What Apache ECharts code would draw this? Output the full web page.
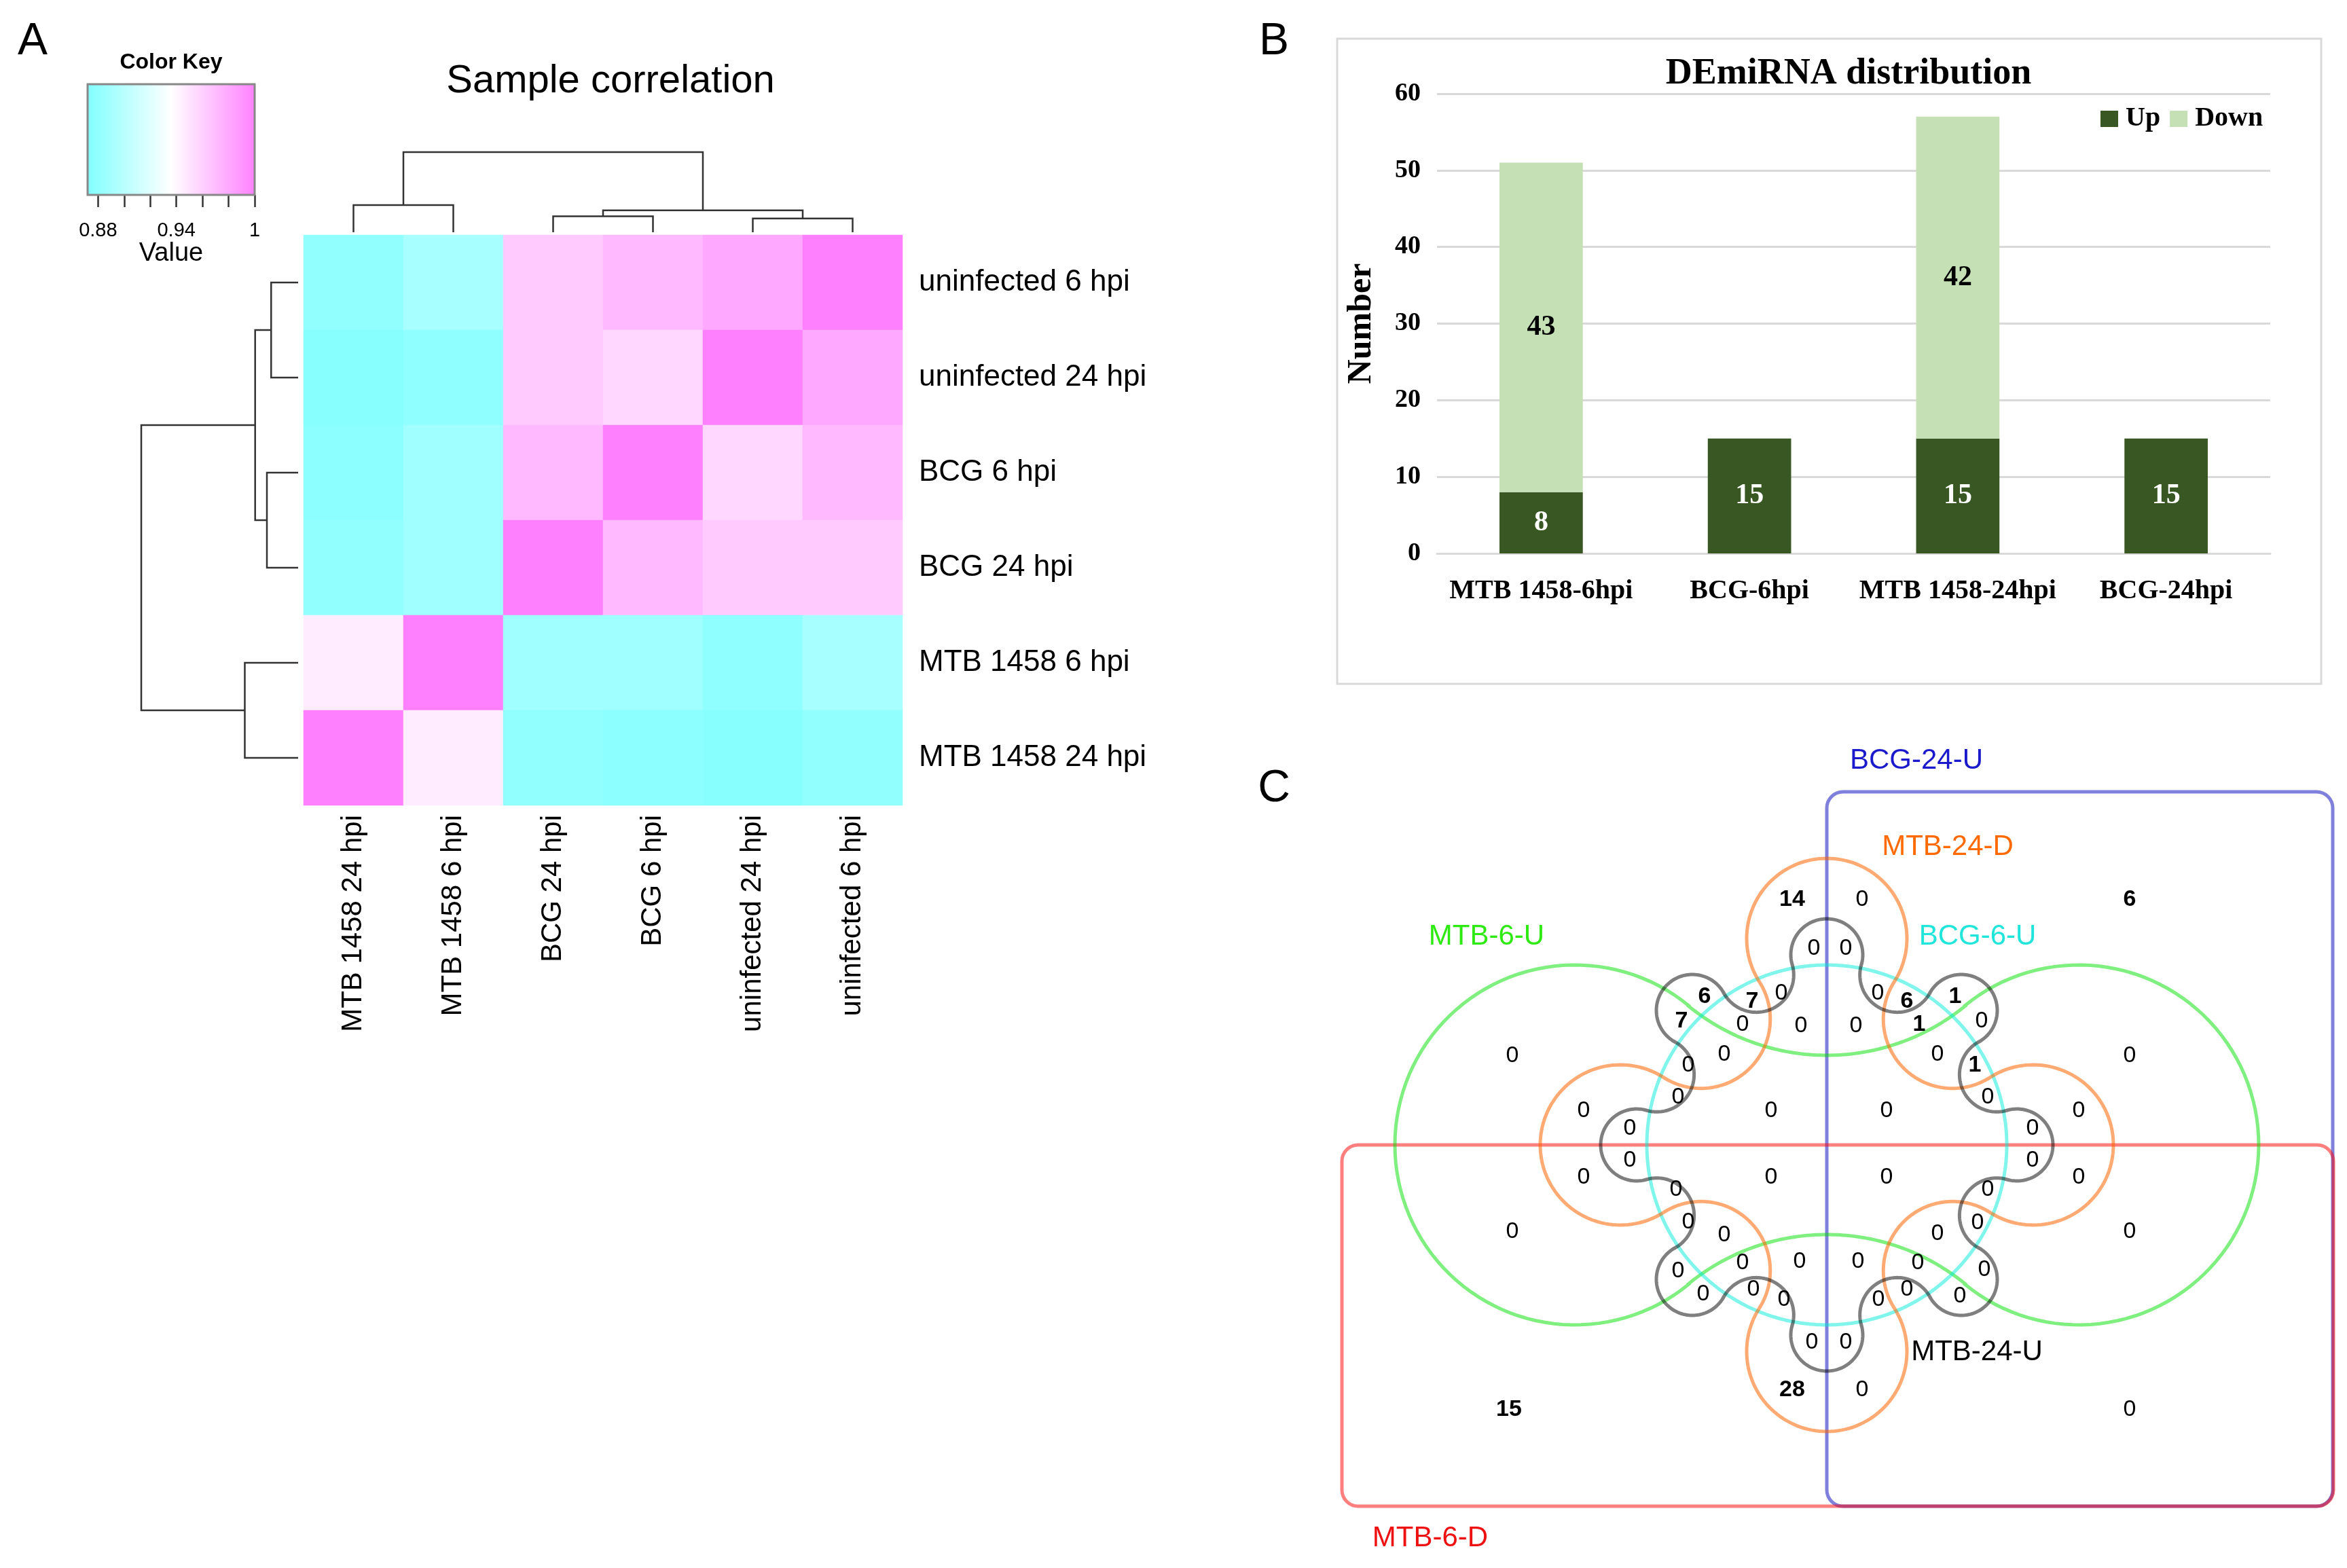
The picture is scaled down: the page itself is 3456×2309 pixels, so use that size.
<!DOCTYPE html>
<html><head><meta charset="utf-8">
<script src="https://cdn.jsdelivr.net/npm/echarts@6/dist/echarts.min.js"></script>
<style>html,body{margin:0;padding:0;background:#fff}#c{width:3456px;height:2309px}</style>
</head><body><div id="c"></div>
<script>
// ================= Panel A: sample correlation =================
const samples = ['uninfected 6 hpi','uninfected 24 hpi','BCG 6 hpi','BCG 24 hpi','MTB 1458 6 hpi','MTB 1458 24 hpi'];
const corrUninf6  = [1.000, 0.980, 0.971, 0.962, 0.892, 0.881];
const corrUninf24 = [0.980, 1.000, 0.956, 0.962, 0.880, 0.876];
const corrBCG6    = [0.971, 0.956, 1.000, 0.971, 0.888, 0.878];
const corrBCG24   = [0.962, 0.962, 0.971, 1.000, 0.888, 0.881];
const corrMTB6    = [0.892, 0.880, 0.888, 0.888, 1.000, 0.945];
const corrMTB24   = [0.881, 0.876, 0.878, 0.881, 0.945, 1.000];
const corrRows = [corrUninf6, corrUninf24, corrBCG6, corrBCG24, corrMTB6, corrMTB24];
const rowOrder = [0, 1, 2, 3, 4, 5];      // top -> bottom
const colOrder = [5, 4, 3, 2, 1, 0];      // left -> right
const colorKeyMin = 0.872, colorKeyMax = 1.0;
const colorKeyTicks = [0.88, 0.90, 0.92, 0.94, 0.96, 0.98, 1.00];
const colorKeyLabels = [0.88, 0.94, 1.00];
// hclust-style merges: negative = leaf (1-based sample index), positive = earlier merge
const dendroMerges = [[-1, -2, 0.172], [-3, -4, 0.199], [1, 2, 0.274], [-5, -6, 0.340], [3, 4, 1.0]];

// ================= Panel B: DEmiRNA distribution =================
const barCategories = ['MTB 1458-6hpi', 'BCG-6hpi', 'MTB 1458-24hpi', 'BCG-24hpi'];
const upCounts = [8, 15, 15, 15];
const downCounts = [43, 0, 42, 0];

// ================= Panel C: Venn diagram =================
const vennSetNames = ['BCG-24-U', 'MTB-24-D', 'BCG-6-U', 'MTB-6-U', 'MTB-6-D', 'MTB-24-U'];
const vennCounts = [
  14,0,6,7,0,7,0,0,0,0,0,0,0,0,0,0,0,0,0,0,0,0,
  0,6,0,0,6,1,0,1,0,0,1,0,0,0,0,0,0,0,0,0,0,0,0,
  0,0,0,0,0,0,0,28,15,
  0,0,0,0,0,0,0,0,0
];

// ----- layout (positions/sizes; not data) -----
const vennLabelPos = [
  [-51,361],[-19,289],[-180,218],[-110,211],[-67,223],[-214,182],[-124,177],[-38,175],[-463,131],[-151,133],[-204,117],
  [-219,70],[-358,50],[-82,50],[-290,24],[-290,-23],[-358,-48],[-82,-48],[-222,-66],[-463,-128],[-204,-114],[-151,-133],
  [52,361],[446,361],[28,289],[75,223],[118,211],[189,218],[43,175],[136,177],[228,182],[163,133],[218,117],[446,131],
  [237,70],[88,50],[371,50],[303,24],[303,-23],[88,-48],[371,-48],[237,-66],[163,-131],[222,-115],[446,-128],
  [-219,-186],[-124,-174],[-40,-172],[-182,-220],[-108,-213],[-63,-228],[-22,-291],[-51,-361],[-468,-390],
  [46,-172],[134,-174],[232,-184],[118,-213],[76,-228],[196,-223],[28,-291],[52,-361],[446,-390]
];
const vennSetLabelPos = [[132,566],[178,439],[222,307],[-501,307],[-584,-579],[221,-305]];
const vennSetLabelColor = ['#1A1ACC','#FF6A00','#1FE5DB','#2EEA12','#EE1111','#000000'];
const vennShapes = [
  {kind:'rect', x1:0, y1:-532, x2:745, y2:520, stroke:'rgba(0,0,185,0.5)'},
  {kind:'rect', x1:-714, y1:-532, x2:746, y2:0, stroke:'rgba(255,0,0,0.5)'},
  {kind:'chain', n:2, R1:371, r1:265, R2:454, r2:322, stroke:'rgba(0,225,0,0.5)'},
  {kind:'circle', r:265, stroke:'rgba(0,235,215,0.5)'},
  {kind:'chain', n:4, R1:304, r1:118, R2:262, r2:102, stroke:'rgba(255,100,0,0.55)'},
  {kind:'chain', n:8, R1:280, r1:53, R2:271, r2:55, stroke:'rgba(0,0,0,0.5)'}
];

const SANS = '"Liberation Sans", Arial, Helvetica, sans-serif';
const SERIF = '"Liberation Serif", "Times New Roman", serif';

// ---------- helpers ----------
function dendroSegments(order) {
  const pos = {};
  order.forEach((s, i) => { pos[s] = i + 0.5; });
  const nodes = [], segs = [];
  const get = ref => ref < 0 ? {p: pos[-ref - 1], h: 0} : nodes[ref - 1];
  dendroMerges.forEach(([a, b, h]) => {
    const A = get(a), B = get(b);
    segs.push([A.p, A.h, B.p, B.h, h]);
    nodes.push({p: (A.p + B.p) / 2, h: h});
  });
  return segs;
}
function chainPoints(n, R1, r1, R2, r2) {
  const circles = [];
  for (let k = 0; k < n; k++) {
    const a1 = k * 2 * Math.PI / n, a2 = a1 + Math.PI / n;
    circles.push({x: R1 * Math.cos(a1), y: R1 * Math.sin(a1), r: r1, convex: true});
    circles.push({x: R2 * Math.cos(a2), y: R2 * Math.sin(a2), r: r2, convex: false});
  }
  const pts = [], m = circles.length;
  for (let i = 0; i < m; i++) {
    const c = circles[i], p = circles[(i - 1 + m) % m], q = circles[(i + 1) % m];
    let a0 = Math.atan2(p.y - c.y, p.x - c.x), a1 = Math.atan2(q.y - c.y, q.x - c.x);
    if (c.convex) { while (a1 <= a0) a1 += 2 * Math.PI; }
    else { while (a1 >= a0) a1 -= 2 * Math.PI; }
    const N = 90;
    for (let s = 0; s <= N; s++) {
      const a = a0 + (a1 - a0) * s / N;
      pts.push([c.x + c.r * Math.cos(a), c.y + c.r * Math.sin(a)]);
    }
  }
  return pts;
}
function circlePoints(r) {
  const pts = [];
  for (let s = 0; s < 360; s++) { const a = s * Math.PI / 180; pts.push([r * Math.cos(a), r * Math.sin(a)]); }
  return pts;
}

// ---------- build data ----------
const heatData = [];
rowOrder.forEach((ri, r) => colOrder.forEach((ci, c) => heatData.push([c, r, corrRows[ri][ci]])));
const topSegs = dendroSegments(colOrder);
const leftSegs = dendroSegments(rowOrder);

const chart = echarts.init(document.getElementById('c'), null, {renderer: 'canvas'});
const noAxis = {show: false};
const hiddenVal = (min, max, extra) => Object.assign({type: 'value', min: min, max: max, show: false, splitLine: {show: false}}, extra || {});

const option = {
  animation: false,
  backgroundColor: '#ffffff',
  textStyle: {fontFamily: SANS},
  grid: [
    {left: 447, top: 346, width: 882, height: 840, outerBoundsMode: 'none'},   // 0 heatmap
    {left: 447, top: 224, width: 882, height: 118, outerBoundsMode: 'none'},   // 1 top dendro
    {left: 208, top: 346, width: 231, height: 840, outerBoundsMode: 'none'},   // 2 left dendro
    {left: 129, top: 124, width: 246, height: 163, outerBoundsMode: 'none'},   // 3 color key
    {left: 2116, top: 138, width: 1227, height: 677, outerBoundsMode: 'none'}, // 4 bars
    {left: 1960, top: 1080, width: 1496, height: 1229, outerBoundsMode: 'none'} // 5 venn
  ],
  xAxis: [
    {type: 'category', gridIndex: 0, data: colOrder.map(i => samples[i]), position: 'bottom',
     axisLine: noAxis, axisTick: noAxis, splitLine: {show: false},
     axisLabel: {rotate: 90, interval: 0, fontSize: 42, color: '#000', margin: 14, fontFamily: SANS}},
    hiddenVal(0, 6, {gridIndex: 1}),
    hiddenVal(0, 1, {gridIndex: 2, inverse: true}),
    {type: 'value', gridIndex: 3, min: colorKeyMin, max: colorKeyMax, position: 'bottom',
     axisLine: {show: false}, splitLine: {show: false},
     axisTick: {show: true, customValues: colorKeyTicks, length: 18, lineStyle: {color: '#333', width: 2.5}},
     axisLabel: {show: true, customValues: colorKeyLabels, fontSize: 29, color: '#000', margin: 38,
                 formatter: v => String(+(+v).toFixed(2))},
     name: 'Value', nameLocation: 'middle', nameGap: 66,
     nameTextStyle: {fontSize: 38, color: '#000', fontFamily: SANS}},
    {type: 'category', gridIndex: 4, data: barCategories,
     axisLine: {show: true, lineStyle: {color: '#D9D9D9', width: 3}}, axisTick: noAxis,
     axisLabel: {fontSize: 40, fontWeight: 'bold', fontFamily: SERIF, color: '#000', margin: 36, interval: 0}},
    hiddenVal(-730, 766, {gridIndex: 5})
  ],
  yAxis: [
    {type: 'category', gridIndex: 0, data: rowOrder.map(i => samples[i]), inverse: true, position: 'right',
     axisLine: noAxis, axisTick: noAxis, splitLine: {show: false},
     axisLabel: {fontSize: 44, color: '#000', margin: 24, fontFamily: SANS, interval: 0}},
    hiddenVal(0, 1, {gridIndex: 1}),
    hiddenVal(0, 6, {gridIndex: 2, inverse: true}),
    hiddenVal(0, 1, {gridIndex: 3}),
    {type: 'value', gridIndex: 4, min: 0, max: 60, interval: 10,
     axisLine: {show: false}, axisTick: {show: false},
     splitLine: {show: true, lineStyle: {color: '#D9D9D9', width: 3}},
     axisLabel: {fontSize: 38, fontWeight: 'bold', fontFamily: SERIF, color: '#000', margin: 24},
     name: 'Number', nameLocation: 'middle', nameGap: 86, nameRotate: 90,
     nameTextStyle: {fontSize: 50, fontWeight: 'bold', fontFamily: SERIF, color: '#000'}},
    hiddenVal(-623, 606, {gridIndex: 5})
  ],
  visualMap: {
    show: false, type: 'continuous', min: colorKeyMin, max: colorKeyMax, seriesIndex: 0, dimension: 2,
    inRange: {color: ['#80FFFF', '#FFFFFF', '#FF80FF']}
  },
  legend: {
    left: 3088, top: 150, itemWidth: 26, itemHeight: 24, itemGap: 14, icon: 'rect',
    data: ['Up', 'Down'], selectedMode: false,
    textStyle: {fontSize: 40, fontWeight: 'bold', fontFamily: SERIF, color: '#000', padding: [0, 0, 0, 6]}
  },
  graphic: [
    {type: 'text', x: 48, y: 62, style: {text: 'A', fontSize: 66, fontFamily: SANS, fill: '#000', align: 'center', verticalAlign: 'middle'}},
    {type: 'text', x: 1876, y: 62, style: {text: 'B', fontSize: 66, fontFamily: SANS, fill: '#000', align: 'center', verticalAlign: 'middle'}},
    {type: 'text', x: 1876, y: 1162, style: {text: 'C', fontSize: 66, fontFamily: SANS, fill: '#000', align: 'center', verticalAlign: 'middle'}},
    {type: 'text', x: 252, y: 92, style: {text: 'Color Key', fontSize: 32, fontWeight: 'bold', fontFamily: SANS, fill: '#000', align: 'center', verticalAlign: 'middle'}},
    {type: 'text', x: 899, y: 120, style: {text: 'Sample correlation', fontSize: 58, fontFamily: SANS, fill: '#000', align: 'center', verticalAlign: 'middle'}},
    {type: 'text', x: 2722, y: 109, style: {text: 'DEmiRNA distribution', fontSize: 54, fontWeight: 'bold', fontFamily: SERIF, fill: '#000', align: 'center', verticalAlign: 'middle'}},
    {type: 'rect', shape: {x: 1969, y: 57, width: 1449, height: 950}, style: {fill: 'none', stroke: '#D9D9D9', lineWidth: 3}, z: -1}
  ],
  series: [
    {type: 'heatmap', xAxisIndex: 0, yAxisIndex: 0, data: heatData, silent: true,
     itemStyle: {borderWidth: 0}, emphasis: {disabled: true}},
    {type: 'custom', xAxisIndex: 1, yAxisIndex: 1, data: topSegs, silent: true,
     renderItem: (params, api) => {
       const p1 = api.value(0), h1 = api.value(1), p2 = api.value(2), h2 = api.value(3), H = api.value(4);
       return {type: 'polyline', shape: {points: [api.coord([p1, h1]), api.coord([p1, H]), api.coord([p2, H]), api.coord([p2, h2])]},
               style: {stroke: '#333', lineWidth: 2.5, fill: 'none'}};
     }},
    {type: 'custom', xAxisIndex: 2, yAxisIndex: 2, data: leftSegs, silent: true,
     renderItem: (params, api) => {
       const p1 = api.value(0), h1 = api.value(1), p2 = api.value(2), h2 = api.value(3), H = api.value(4);
       return {type: 'polyline', shape: {points: [api.coord([h1, p1]), api.coord([H, p1]), api.coord([H, p2]), api.coord([h2, p2])]},
               style: {stroke: '#333', lineWidth: 2.5, fill: 'none'}};
     }},
    {type: 'custom', xAxisIndex: 3, yAxisIndex: 3, data: [[colorKeyMin, colorKeyMax]], silent: true,
     renderItem: (params, api) => {
       const a = api.coord([api.value(0), 1]), b = api.coord([api.value(1), 0]);
       return {type: 'rect', shape: {x: a[0], y: a[1], width: b[0] - a[0], height: b[1] - a[1]},
               style: {stroke: '#888', lineWidth: 3,
                       fill: new echarts.graphic.LinearGradient(0, 0, 1, 0, [
                         {offset: 0, color: '#80FFFF'}, {offset: 0.5, color: '#FFFFFF'}, {offset: 1, color: '#FF80FF'}])}};
     }},
    {type: 'bar', name: 'Up', xAxisIndex: 4, yAxisIndex: 4, stack: 'total', data: upCounts, barWidth: '40%',
     itemStyle: {color: '#385723'}, silent: true,
     label: {show: true, position: 'inside', color: '#fff', fontSize: 42, fontWeight: 'bold', fontFamily: SERIF,
             formatter: p => p.value ? String(p.value) : ''}},
    {type: 'bar', name: 'Down', xAxisIndex: 4, yAxisIndex: 4, stack: 'total', data: downCounts, barWidth: '40%',
     itemStyle: {color: '#C5E0B4'}, silent: true,
     label: {show: true, position: 'inside', color: '#000', fontSize: 42, fontWeight: 'bold', fontFamily: SERIF,
             formatter: p => p.value ? String(p.value) : ''}},
    {type: 'custom', xAxisIndex: 5, yAxisIndex: 5, data: vennShapes.map((s, i) => [i, 0]), silent: true, clip: false,
     renderItem: (params, api) => {
       const s = vennShapes[params.dataIndex];
       if (s.kind === 'rect') {
         const a = api.coord([s.x1, s.y2]), b = api.coord([s.x2, s.y1]);
         return {type: 'rect', shape: {x: a[0], y: a[1], width: b[0] - a[0], height: b[1] - a[1], r: 24},
                 style: {fill: 'none', stroke: s.stroke, lineWidth: 5}};
       }
       const pts = s.kind === 'circle' ? circlePoints(s.r) : chainPoints(s.n, s.R1, s.r1, s.R2, s.r2);
       return {type: 'polygon', shape: {points: pts.map(p => api.coord(p))},
               style: {fill: 'none', stroke: s.stroke, lineWidth: 5}};
     }},
    {type: 'custom', xAxisIndex: 5, yAxisIndex: 5, silent: true, clip: false,
     data: vennLabelPos.map((p, i) => [p[0], p[1], vennCounts[i]]),
     renderItem: (params, api) => {
       const pt = api.coord([api.value(0), api.value(1)]);
       const v = api.value(2);
       return {type: 'text', x: pt[0], y: pt[1],
               style: {text: String(v), fontSize: 34, fontWeight: v ? 'bold' : 'normal', fontFamily: SANS,
                       fill: '#000', align: 'center', verticalAlign: 'middle'}};
     }},
    {type: 'custom', xAxisIndex: 5, yAxisIndex: 5, silent: true, clip: false,
     data: vennSetLabelPos.map((p, i) => [p[0], p[1], i]),
     renderItem: (params, api) => {
       const pt = api.coord([api.value(0), api.value(1)]);
       const i = params.dataIndex;
       return {type: 'text', x: pt[0], y: pt[1],
               style: {text: vennSetNames[i], fontSize: 42, fontFamily: SANS, fill: vennSetLabelColor[i],
                       align: 'center', verticalAlign: 'middle'}};
     }}
  ]
};
chart.setOption(option);
</script>
</body></html>
